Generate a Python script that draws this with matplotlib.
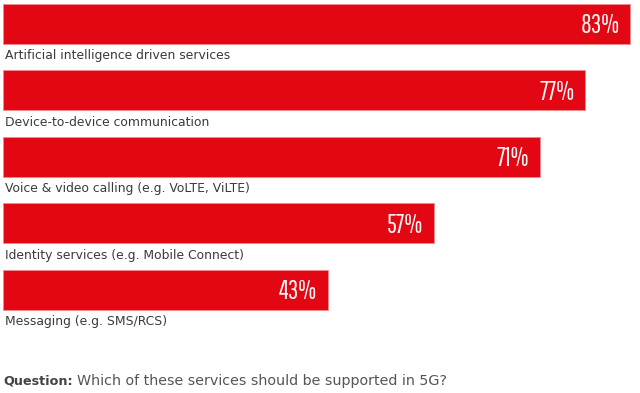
import matplotlib
matplotlib.use("Agg")
import matplotlib.pyplot as plt
from matplotlib.font_manager import fontManager

categories = [
    "Artificial intelligence driven services",
    "Device-to-device communication",
    "Voice & video calling (e.g. VoLTE, ViLTE)",
    "Identity services (e.g. Mobile Connect)",
    "Messaging (e.g. SMS/RCS)",
]
values = [83, 77, 71, 57, 43]
value_labels = ["83%", "77%", "71%", "57%", "43%"]

names = {f.name for f in fontManager.ttflist}

val_font, val_size = "Oswald", 16
for cand, size in [("Pathway Gothic One", 18.5), ("Oswald", 16)]:
    if cand in names:
        val_font, val_size = cand, size
        break
else:
    val_font, val_size = "DejaVu Sans", 15

txt_font = "DejaVu Sans"

fig = plt.figure(figsize=(6.4, 3.93), dpi=100)
ax = fig.add_axes([0, 0, 1, 1])
ypos = list(range(len(categories)))
ax.barh(ypos, values, height=0.6, color="#e30613", edgecolor="#f08a90", linewidth=0.6)
ax.set_xlim(-0.397, 84.26)
ax.set_ylim(5.557, -0.361)
ax.axis("off")

for y, v, lab, cat in zip(ypos, values, value_labels, categories):
    ax.text(v - 1.45, y + 0.03, lab, ha="right", va="center", color="#fff4f4",
            fontsize=val_size, family=[val_font, "DejaVu Sans"])
    ax.text(0.25, y + 0.48, cat, ha="left", va="center", color="#3a3a3a",
            fontsize=8.9, family=[txt_font])

fig.text(3 / 640, 1 - 381 / 393, "Question:", ha="left", va="center",
         fontsize=9.2, fontweight="bold", color="#444444", family=[txt_font])
fig.text(77 / 640, 1 - 381 / 393, "Which of these services should be supported in 5G?", ha="left", va="center",
         fontsize=10.3, color="#555555", family=[txt_font])

fig.savefig("out.png", dpi=100)
